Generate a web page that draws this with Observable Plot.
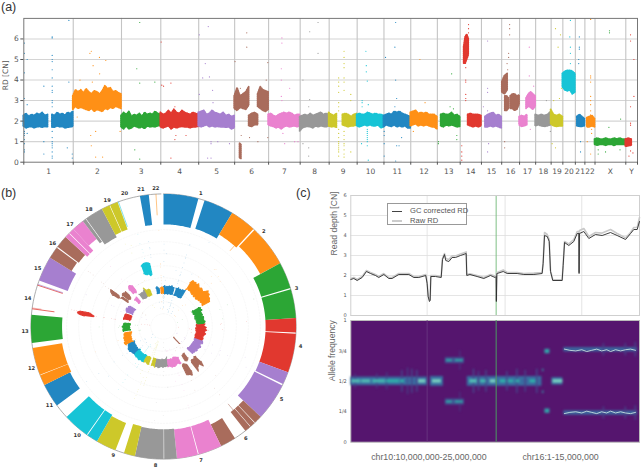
<!DOCTYPE html>
<html><head><meta charset="utf-8">
<script src="https://cdn.jsdelivr.net/npm/d3@7"></script>
<script src="https://cdn.jsdelivr.net/npm/@observablehq/plot@0.6"></script>
<style>
html,body{margin:0;padding:0;background:#fff;width:642px;height:467px;overflow:hidden}
#wrap{position:relative;width:642px;height:467px;font-family:"Liberation Sans",sans-serif}
.tag{position:absolute;font-size:12.5px;color:#333}
#legend{position:absolute;left:387px;top:203px;width:80px;height:22px;border:1px solid #999;background:#fff;font-size:7.6px;color:#555;box-sizing:border-box}
#legend div{position:absolute;left:22px;white-space:nowrap}
#legend i{position:absolute;left:4px;width:10px}
</style></head><body><div id="wrap"></div>
<script>
const chrNames=["1","2","3","4","5","6","7","8","9","10","11","12","13","14","15","16","17","18","19","20","21","22","X","Y"];
const chrLen=[249,243,198,191,181,171,159,146,141,135,135,134,115,107,102,90,81,78,59,63,48,51,155,59];
const chrColor=["#2287c2","#ff9016","#2ca635","#e1382f","#a67fcf","#a96c5c","#ea82cf","#989898","#cdc82a","#17c4d6","#2287c2","#ff9016","#2ca635","#e1382f","#a67fcf","#a96c5c","#ea82cf","#989898","#cdc82a","#17c4d6","#2287c2","#ff9016","#2ca635","#e1382f"];

// RD segments of panel (a): chromosome index, start and end in Mb, envelope of the cloud
const bandChr=[0,0,1,2,3,4,5,5,5,5,6,7,8,8,9,10,11,12,13,13,14,15,15,15,16,16,17,18,19,20,21,22,23];
const bandStart=[0,144,0,0,0,0,0,73,118,27,0,0,0,69,0,0,0,19,20,40,20,3,18,45,0,35,0,0,0,10,12,0,0];
const bandEnd=[122,249,243,198,191,181,73,118,171,34,159,146,39,141,135,135,134,115,43,107,102,30,37,90,39,81,78,59,63,48,51,155,30];
const bandHi=[
[2.25,2.35,2.2,2.3,2.25,2.35,2.3,2.4,2.25,2.3],
[2.3,2.25,2.4,2.3,2.35,2.25,2.4,2.35,2.45],
[3.2,3.5,3.4,3.5,3.35,3.55,3.4,3.3,3.45,3.4,3.3,3.45,3.7,3.55,3.6,3.4,3.45,3.35,3.3],
[2.25,2.4,2.3,2.45,2.2,2.3,2.25,2.35,2.2,2.4,2.3,2.35,2.3,2.45,2.35,2.3],
[2.4,2.3,2.35,2.5,2.35,2.55,2.4,2.35,2.5,2.4,2.35,2.3,2.4,2.35,2.3],
[2.4,2.45,2.5,2.3,2.35,2.5,2.4,2.35,2.3,2.4,2.25,2.3,2.2,2.25],
[3.2,3.6,3.2,3.3,3.4,3.65],
[2.25,2.35,2.4,2.3],
[3.3,3.65,3.5,3.45,3.4],
[0.9,0.85],
[2.3,2.35,2.25,2.2,2.3,2.35,2.4,2.35,2.4,2.35,2.25,2.3,2.3],
[2.2,2.25,2.3,2.25,2.35,2.25,2.3,2.35,2.4,2.3,2.35,2.3],
[2.4,2.3,2.25,2.35],
[2.3,2.35,2.3,2.2,2.3,2.35],
[2.3,2.35,2.3,2.3,2.4,2.35,2.3,2.35,2.3,2.3,2.25],
[2.25,2.3,2.35,2.3,2.45,2.4,2.45,2.35,2.3,2.25,2.2],
[2.4,2.45,2.5,2.35,2.4,2.35,2.4,2.3,2.3,2.3,2.2],
[2.3,2.35,2.3,2.3,2.4,2.25,2.3,2.2],
[5.6,6.1,6.2,6.0],
[2.3,2.35,2.3,2.3,2.3,2.25],
[2.2,2.3,2.35,2.4,2.25,2.3,2.2],
[3.9,4.2,4.3],
[3.2,3.2,3.1],
[3.2,3.3,3.3,3.2,3.25],
[2.2,2.25,2.2,2.3],
[3.1,3.3,3.4,3.3,3.2],
[2.3,2.25,2.3,2.25,2.3,2.45],
[2.55,2.3,2.25,2.3,2.2],
[4.3,4.4,4.45,4.45,4.4,4.3],
[2.2,2.3,2.2,2.1],
[2.15,2.2,2.25,2.1],
[1.1,1.15,1.1,1.1,1.15,1.1,1.1,1.15,1.1,1.15,1.1,1.1],
[1.1,1.15,1.1]];
const bandLo=[
[1.75,1.65,1.7,1.72,1.65,1.7,1.72,1.68,1.72,1.7],
[1.7,1.68,1.75,1.7,1.72,1.65,1.68,1.7,1.72],
[2.55,2.7,2.6,2.65,2.6,2.55,2.5,2.6,2.45,2.55,2.5,2.45,2.6,2.55,2.65,2.6,2.7,2.65,2.6],
[1.7,1.6,1.75,1.6,1.65,1.75,1.7,1.65,1.7,1.62,1.75,1.7,1.72,1.7,1.75,1.78],
[1.7,1.65,1.7,1.75,1.6,1.7,1.65,1.7,1.72,1.7,1.7,1.65,1.7,1.7,1.72],
[1.75,1.7,1.75,1.8,1.7,1.75,1.7,1.72,1.7,1.7,1.68,1.7,1.6,1.65],
[2.6,2.5,2.65,2.6,2.55,2.75],
[1.75,1.72,1.8,1.8],
[2.7,2.6,2.5,2.45,2.55],
[0.2,0.15],
[1.8,1.75,1.72,1.65,1.7,1.6,1.7,1.75,1.7,1.72,1.75,1.7,1.75],
[1.5,1.65,1.7,1.72,1.7,1.65,1.75,1.7,1.75,1.72,1.7,1.75],
[1.75,1.7,1.72,1.68],
[1.8,1.75,1.7,1.75,1.75,1.8],
[1.75,1.7,1.75,1.8,1.75,1.8,1.75,1.75,1.8,1.65,1.7],
[1.7,1.8,1.75,1.72,1.8,1.7,1.75,1.7,1.75,1.65,1.65],
[1.75,1.8,1.85,1.75,1.8,1.75,1.8,1.75,1.7,1.7,1.6],
[1.75,1.7,1.8,1.75,1.8,1.75,1.7,1.72],
[4.8,4.8,5.0,5.2],
[1.8,1.75,1.7,1.75,1.7,1.75],
[1.7,1.7,1.75,1.7,1.75,1.7,1.65],
[3.4,3.3,3.5],
[2.5,2.5,2.6],
[2.6,2.6,2.5,2.55,2.8],
[1.8,1.72,1.75,1.8],
[2.6,2.7,2.65,2.55,2.7],
[1.75,1.8,1.75,1.72,1.75,1.8],
[1.85,1.75,1.72,1.75,1.75],
[3.65,3.5,3.45,3.5,3.3,3.4],
[1.75,1.72,1.72,1.75],
[1.7,1.7,1.75,1.7],
[0.85,0.8,0.85,0.85,0.8,0.85,0.85,0.8,0.85,0.85,0.85,0.85],
[0.75,0.78,0.8]];

// isolated points of panel (a): genome position in Mb, CN values
const outliers=[[3,[5.8,5.3,4.35,3.1,1.5,1.4,1.3,1.1,0.9,0.6,0.5]],[17,[5.0,2.8,1.4]],[101,[3.7,1.0,0.4]],[143,[6.1,6.05,5.2,5.0,4.9,4.5,4.1,3.7,3.5,3.4,3.0,2.9,2.7,1.7,1.5,1.2,1.0,0.9,0.8,0.7,0.5,0.3,0.2]],[219,[0.7]],[227,[6.9,3.9]],[244,[0.4,0.2]],[269,[2.2]],[283,[4.0]],[333,[5.3]],[337,[1.3]],[340,[5.4,0.8]],[345,[3.9]],[349,[4.7]],[362,[1.5,0.25]],[381,[5.1]],[382,[4.3]],[397,[0.25]],[413,[4.95]],[485,[1.5]],[559,[0.6]],[569,[4.55]],[584,[6.8,3.85,0.15]],[660,[3.9]],[692,[5.85]],[695,[3.75]],[704,[3.7]],[741,[3.85,0.2]],[761,[1.1,2.7]],[766,[1.3]],[817,[1.3]],[884,[6.2,3.3]],[901,[4.1]],[914,[4.8]],[926,[0.2]],[929,[6.6]],[935,[4.15]],[943,[1.0,0.9,0.2]],[951,[3.5]],[953,[2.9]],[977,[1.0]],[1036,[0.9]],[1064,[4.9]],[1091,[3.6]],[1095,[1.3]],[1123,[6.3,5.6]],[1137,[1.2]],[1179,[1.0]],[1221,[4.0]],[1229,[4.85,1.2]],[1297,[4.55,4.0,3.2]],[1300,[6.05,5.8,3.0]],[1305,[1.4]],[1314,[0.9]],[1339,[3.6]],[1364,[1.0]],[1381,[1.0]],[1406,[4.0,0.9]],[1435,[2.7,0.7,0.3]],[1440,[6.35,3.05]],[1482,[6.8,5.3]],
[1586,[4.1,3.9,3.7,3.4,2.9,2.7,2.5,1.6,1.4,1.2,1.0,0.9,0.8,0.7,0.6,0.5,0.3]],[1613,[5.4,5.1,4.8,4.6,4.1,3.9,3.5,1.5,1.3,1.1,0.9,0.8,0.6,0.4,0.25]],[1647,[3.3,3.0,0.5]],[1701,[0.9]],[1704,[3.0,2.9,2.7]],[1723,[5.4]],[1725,[4.7,4.4]],[1730,[3.95,1.6,1.5,1.4,1.3,1.2,1.1,1.0,0.8]],[1735,[2.8,0.1]],[1815,[1.5,1.3,0.9,0.3]],[1822,[5.1]],[1869,[5.6,2.7]],[1873,[6.8,4.0,0.05]],[1878,[3.1,0.8]],[1890,[0.8]],[1903,[1.2]],[1962,[1.5]],[1995,[5.0]],[2021,[2.9]],[2088,[1.0,0.9]],[2147,[2.7]],[2155,[4.3]],[2164,[2.6]],[2181,[1.3,1.1]],[2206,[0.8,0.5,0.3,0.1]],[2226,[4.6,4.0,3.9,3.3,3.1,3.0]],[2236,[5.8]],[2240,[6.7,6.5,6.3]],[2315,[2.7]],[2336,[5.9,3.6,3.4,2.5,0.5]],[2341,[0.9]],[2422,[1.0,0.7]],[2434,[4.8]],[2437,[4.5]],[2442,[5.3,5.1]],[2447,[6.7,6.5,6.2]],[2546,[5.6,4.2]],[2551,[1.6]],[2568,[3.7]],[2632,[3.0]],[2652,[1.5]],[2661,[0.9]],[2669,[3.0]],[2678,[6.5,0.7]],[2691,[5.6]],[2698,[3.1]],[2703,[6.2]],[2708,[3.6]],[2750,[6.1]],[2753,[6.9,5.6,5.3,4.8]],[2798,[6.1,5.6,5.5]],[2795,[5.0,4.8]],[2804,[1.0,0.5]],[2838,[1.0]],[2855,[6.95,4.2,4.1,3.9,3.2,3.0,2.8,2.5,2.3,0.4]],[2860,[1.6,1.4]],[2893,[0.6,0.4]],[2930,[0.5]],[2947,[1.7]],[2950,[6.4,6.3]],[2972,[0.8]],[3003,[0.6]],[3006,[2.1]],[3048,[0.3]],[3056,[6.2,5.9,2.7,1.9,1.8,0.55]],[3068,[0.45]],[3073,[5.0,3.2]]];

// outer ring of panel (b): chromosome index, start and end in Mb, inner radius as a share of the ring radius
const ringChr=[0,0,1,1,2,2,3,3,4,4,5,5,5,5,6,6,7,7,8,8,9,9,10,11,11,12,14,15,15,16,16,16,17,17,18,18,20];
const ringStart=[0,144,0,97,0,97,0,54,0,49,0,30,50,116,0,85,0,46,0,70,0,42,52,0,38,18,15,0,46,0,19,38,0,14,0,31,17];
const ringEnd=[122,249,92,243,92,198,50,191,44,181,28,48,72,171,82,159,44,146,39,141,39,135,135,36,134,115,102,42,90,17,38,81,12,78,29,59,48];
const ringInner=[0.77,0.775,0.81,0.83,0.77,0.77,0.77,0.77,0.77,0.765,0.82,0.82,0.82,0.82,0.78,0.78,0.775,0.775,0.77,0.78,0.77,0.77,0.785,0.775,0.775,0.765,0.77,0.81,0.8,0.78,0.78,0.83,0.79,0.76,0.78,0.78,0.77];
const spokeChr=[1,5,13,13,13,14,19,21];
const spokeMb=[81,58,21,24,105,1,3,25];
const spokeInner=[0.76,0.76,0.83,0.93,0.8,0.8,0.8,0.84];
const spokeWidth=[0.7,0.7,1,0.5,1,0.8,0.7,0.7];

// panel (c): position in Mb along chr10:10-25M followed by chr16:1-15M, read depth
const rdPos=[0,0.3,0.64,1.14,1.57,1.98,2.48,2.81,3.32,3.82,4.15,4.82,5.83,6.33,6.83,7.53,7.67,7.77,7.9,7.97,8.04,8.51,9.08,9.21,9.41,9.54,9.85,10.18,10.52,11.02,11.59,11.65,11.96,12.69,13.36,14.03,14.5,14.6,14.62,14.67,14.7,15.31,15.71,16.71,17.38,18.39,19.22,19.32,19.46,19.73,19.93,20.06,20.29,21.23,21.33,21.47,21.9,22.4,22.74,22.91,22.93,22.97,23.41,23.91,24.58,25.25,26.09,26.76,27.6,28.1,28.43,28.77,29];
const rdGc=[1.8,1.85,1.75,1.9,2.2,2.1,2.0,1.9,2.05,1.85,1.85,2.05,2.05,1.9,1.9,2.0,1.6,0.95,0.7,0.75,1.95,1.95,1.9,2.8,3.05,2.75,2.7,2.9,2.9,3.0,3.1,2.0,2.05,1.95,1.85,2.0,1.9,1.95,0.7,2.1,2.1,2.2,2.1,2.1,2.05,2.05,2.1,2.6,4.0,3.95,3.7,2.2,1.75,1.75,2.5,3.65,3.5,3.7,4.1,4.1,2.1,4.1,4.2,3.85,4.05,4.0,4.15,4.0,3.8,4.1,4.3,4.3,4.7];
const rdRaw=[1.85,1.9,1.8,1.95,2.25,2.15,2.05,1.95,2.1,1.9,1.9,2.1,2.1,1.95,1.95,2.05,1.65,1.0,0.78,0.8,2.0,2.0,1.95,2.85,3.1,2.85,2.8,2.98,2.98,3.08,3.18,2.05,2.08,2.0,1.9,2.05,1.98,2.0,0.8,2.15,2.15,2.28,2.15,2.15,2.1,2.12,2.15,2.65,4.15,4.05,3.8,2.25,1.78,1.78,2.55,3.7,3.58,3.8,4.2,4.2,2.2,4.25,4.35,3.95,4.15,4.12,4.3,4.1,3.88,4.15,4.4,4.4,4.9];
const rdTicks=[0,1,2,3,4,5,6];
const posTicks=[7.67,15.5,23.2];

// allele frequency heat patches: from Mb, to Mb, centre frequency, half height, intensity
const heatFrom=[0,8.0,11.7,20.2,9.5,21.4,5.1,5.7,6.1,6.6,12.3,12.8,13.55,15.65,16.65,17.5,18.65,0.43,2.6,3.6,10.95,25.35,27.55,28.55,
 0.1,1.1,2.2,3.6,5.0,6.8,8.2,11.95,13.0,14.0,15.0,15.8,16.6,18.0,20.3,9.6,10.5,19.5,19.25];
const heatTo=[7.7,9.3,19.2,21.3,11.4,28.8,5.25,5.8,6.25,6.75,12.45,12.95,13.7,15.8,16.8,17.65,18.8,0.53,2.72,3.72,11.05,25.5,27.7,28.7,
 1.0,2.0,3.5,4.9,5.4,7.55,9.1,12.7,13.6,14.6,15.6,16.4,17.0,18.6,21.3,10.2,11.3,20.0,19.4];
const heatAf=[0.5,0.5,0.5,0.5,0.67,0.76,0.5,0.5,0.5,0.5,0.5,0.5,0.5,0.5,0.5,0.5,0.5,0.5,0.5,0.5,0.67,0.76,0.76,0.76,
 0.5,0.5,0.5,0.5,0.5,0.5,0.5,0.5,0.5,0.5,0.5,0.5,0.5,0.5,0.5,0.67,0.67,0.745,0.59];
const heatHalf=[0.035,0.04,0.04,0.03,0.024,0.018,0.09,0.11,0.1,0.09,0.1,0.08,0.09,0.08,0.1,0.09,0.1,0.06,0.06,0.07,0.08,0.05,0.05,0.06,
 0.012,0.012,0.012,0.012,0.012,0.014,0.014,0.014,0.012,0.014,0.012,0.012,0.012,0.012,0.014,0.008,0.008,0.018,0.01];
const heatValue=[0.36,0.38,0.36,0.4,0.26,0.33,0.2,0.22,0.2,0.2,0.2,0.18,0.2,0.2,0.2,0.18,0.2,0.18,0.18,0.18,0.16,0.18,0.18,0.18,
 0.8,0.8,0.78,0.75,0.75,0.85,0.85,0.8,0.78,0.85,0.75,0.72,0.72,0.75,0.85,0.72,0.72,0.65,0.55];
const lohPos=[21.45,22,22.6,23.2,23.7,24.2,24.7,25.2,25.7,26.1,26.6,27.1,27.6,28.1,28.6];
const lohAf=[0.765,0.755,0.75,0.76,0.745,0.755,0.765,0.75,0.76,0.745,0.76,0.75,0.76,0.765,0.755];
const afTicks=[0,0.25,0.5,0.75,1];
const afLabels=["0","1/4","1/2","3/4","1"];

const wrap=document.getElementById("wrap");
function place(svg,left,top,blur,rectBlur){
  svg.style.position="absolute";svg.style.left=left+"px";svg.style.top=top+"px";
  wrap.appendChild(svg);
  const s=d3.select(svg);
  if(blur) s.selectAll('g[aria-label="area"],g[aria-label="dot"],g[aria-label="line"],g[aria-label="link"]').style("filter","blur("+blur+"px)");
  if(rectBlur) s.selectAll('g[aria-label="rect"]').style("filter","blur("+rectBlur+"px)");
}
const tag=(t,x,y)=>{const d=document.createElement("div");d.className="tag";d.textContent=t;d.style.left=x+"px";d.style.top=y+"px";wrap.appendChild(d)};
const starts=d3.cumsum([0,...chrLen]);
const centres=chrLen.map((l,i)=>starts[i]+l/2);
const total=starts[22];

const bandPts=[];
bandChr.forEach((c,s)=>{const n=bandHi[s].length;bandHi[s].forEach((h,i)=>{
  const mb=bandStart[s]+(bandEnd[s]-bandStart[s])*i/(n-1);
  bandPts.push({s,c,g:starts[c]+mb,lo:bandLo[s][i],hi:h,col:chrColor[c]});});});
const outPts=outliers.flatMap(([g,vals])=>vals.map(v=>({g,v,col:chrColor[d3.bisectRight(starts,g)-1]})));

// panel (a)
place(Plot.plot({width:642,height:180,marginLeft:23.3,marginRight:5,marginTop:17.9,marginBottom:18.3,
 x:{domain:[0,3091],axis:null},y:{domain:[0,7],axis:null},color:{type:"identity"},
 style:{background:"transparent",fontFamily:"'DejaVu Sans'",fontSize:"7.5px",color:"#555"},
 marks:[
  Plot.ruleY([1,2,3,4,5,6],{stroke:"#d4d4d4",strokeWidth:1.1}),
  Plot.ruleX(starts.slice(1,24),{stroke:"#c4c4c4",strokeWidth:1.1}),
  Plot.areaY(bandPts,{x:"g",y1:"lo",y2:"hi",z:"s",fill:"col",stroke:"col",strokeWidth:1.8,strokeDasharray:"0.7,1.2"}),
  Plot.dot(outPts,{x:"g",y:"v",r:0.6,fill:"col",stroke:"none",clip:true}),
  Plot.frame({stroke:"#777",strokeWidth:1}),
  Plot.axisY([0,1,2,3,4,5,6],{label:null,tickSize:3,tickPadding:2,stroke:"#555",fill:"#555"}),
  Plot.axisX(starts,{label:null,tickSize:3,tickFormat:()=>"",stroke:"#555"}),
  Plot.axisX(centres,{label:null,tickSize:0,tickPadding:6,fill:"#555",tickFormat:(d,i)=>chrNames[i]}),
  Plot.text(["RD [CN]"],{y:[3.5],frameAnchor:"left",dx:-18.5,rotate:-90,fill:"#555",fontSize:7.5})
 ]}),0,0,0.35);

// panel (b)
const pol=(g,v)=>{const t=g/total*2*Math.PI;return {x:v*Math.sin(t),y:v*Math.cos(t)}};
const cnR=cn=>(38+36*cn)/397;
const wedgePts=[];
ringChr.forEach((c,w)=>{
  const a=starts[c]+ringStart[w],b=starts[c]+ringEnd[w];
  const steps=d3.range(a,b,6).concat(b);
  const side=(v,arr)=>arr.forEach(g=>wedgePts.push({id:w,col:chrColor[c],...pol(g,v)}));
  side(1,steps);side(ringInner[w],steps.slice().reverse());
});
const spokes=spokeChr.map((c,i)=>{const g=starts[c]+spokeMb[i];const p=pol(g,spokeInner[i]),q=pol(g,1);
  return {x1:p.x,y1:p.y,x2:q.x,y2:q.y,col:chrColor[c],w:spokeWidth[i]}});
const ringPts=[];
bandChr.forEach((c,s)=>{
  if(c>21) return;
  const hi=bandPts.filter(d=>d.s===s);
  hi.forEach(d=>ringPts.push({s,col:d.col,...pol(d.g,cnR(d.hi))}));
  hi.slice().reverse().forEach(d=>ringPts.push({s,col:d.col,...pol(d.g,cnR(d.lo))}));
});
const ringOut=outPts.filter(d=>d.g<total).map(d=>({col:d.col,...pol(d.g,cnR(d.v))}));
const circleAngles=d3.range(0,total+1,12);
const gridCn=[0,1,2,3,4,5,6,7];
const gridPts=gridCn.flatMap(cn=>circleAngles.map(g=>({cn,...pol(g,cnR(cn))})));
const R=132.6,half=150;
const labelR=1.045;
place(Plot.plot({width:300,height:300,margin:0,
 x:{domain:[-half/R,half/R],axis:null},y:{domain:[-half/R,half/R],axis:null},color:{type:"identity"},
 style:{background:"transparent",fontFamily:"'DejaVu Sans'"},
 marks:[
  Plot.line(gridPts,{x:"x",y:"y",z:"cn",stroke:"#f1f1f1",strokeWidth:0.5,strokeDasharray:"1.5,1.5"}),
  Plot.line(circleAngles.map(g=>pol(g,1)),{x:"x",y:"y",stroke:"#8a8a8a",strokeWidth:0.7}),
  Plot.line(wedgePts,{x:"x",y:"y",z:"id",fill:"col",stroke:"none"}),
  Plot.link(spokes,{x1:"x1",y1:"y1",x2:"x2",y2:"y2",stroke:"col",strokeWidth:"w",strokeOpacity:0.75}),
  Plot.line(ringPts,{x:"x",y:"y",z:"s",fill:"col",stroke:"col",strokeWidth:1.2,strokeDasharray:"0.6,1"}),
  Plot.dot(ringOut,{x:"x",y:"y",r:0.4,fill:"col",stroke:"none",fillOpacity:0.4}),
  Plot.text(chrNames.slice(0,22),{x:(d,i)=>pol(centres[i],labelR).x,y:(d,i)=>pol(centres[i],labelR).y,text:d=>d,fontSize:5.2,fontWeight:"bold",fill:"#333"})
 ]}),13.3,176,0.3);

// panel (c) top
place(Plot.plot({width:322,height:135,marginLeft:30.3,marginRight:3,marginTop:10,marginBottom:5,
 x:{domain:[0,29],axis:null},y:{domain:[0,6],axis:null},
 style:{background:"transparent",fontFamily:"'DejaVu Sans'",fontSize:"5px",color:"#555"},
 marks:[
  Plot.ruleY(rdTicks,{stroke:"#dedede",strokeWidth:0.8}),
  Plot.ruleX(posTicks,{stroke:"#dedede",strokeWidth:0.8}),
  Plot.ruleX([14.6],{stroke:"#7fbf85",strokeWidth:1}),
  Plot.frame({stroke:"#cfcfcf"}),
  Plot.line(rdPos,{x:d=>d,y:(d,i)=>rdRaw[i],stroke:"#c9c9c9",strokeWidth:1.6}),
  Plot.line(rdPos,{x:d=>d,y:(d,i)=>rdGc[i],stroke:"#2a2a2a",strokeWidth:0.9}),
  Plot.axisY(rdTicks,{label:null,tickSize:0,tickPadding:4,fill:"#555"}),
  Plot.text(["Read depth [CN]"],{y:[3],frameAnchor:"left",dx:-17,rotate:-90,fill:"#666",fontSize:8.6,fontFamily:"'Liberation Sans'"})
 ]}),320,185,0.3);

// panel (c) bottom
const heat=heatFrom.flatMap((x1,i)=>{const r=a=>({x1,x2:heatTo[i],y1:a-heatHalf[i],y2:a+heatHalf[i],v:heatValue[i]});
  return heatAf[i]===0.5?[r(0.5)]:[r(heatAf[i]),r(1-heatAf[i])]});
place(Plot.plot({width:322,height:152,marginLeft:30.3,marginRight:3,marginTop:5,marginBottom:25.3,
 x:{domain:[0,29],axis:null},y:{domain:[0,1],axis:null},
 color:{type:"linear",domain:[0,0.35,0.75,1],range:["#55156e","#3a6aa0","#2fb5aa","#e8f8e0"]},
 style:{background:"transparent",fontFamily:"'DejaVu Sans'",fontSize:"5px",color:"#555"},
 marks:[
  Plot.frame({fill:"#55156e",stroke:"#bbb"}),
  Plot.ruleX([7.67],{stroke:"#6a3a82",strokeWidth:0.8}),
  Plot.rect(heat,{x1:"x1",x2:"x2",y1:"y1",y2:"y2",fill:"v"}),
  Plot.line(lohPos,{x:d=>d,y:(d,i)=>lohAf[i],stroke:"#d8f0e8",strokeWidth:0.8}),
  Plot.line(lohPos,{x:d=>d,y:(d,i)=>1-lohAf[i],stroke:"#d8f0e8",strokeWidth:0.8}),
  Plot.ruleX([14.6],{stroke:"#4d9a62",strokeWidth:1}),
  Plot.axisY(afTicks,{label:null,tickSize:0,tickPadding:4,fill:"#555",tickFormat:(d,i)=>afLabels[i]}),
  Plot.text(["Allele frequency"],{y:[0.5],frameAnchor:"left",dx:-19,rotate:-90,fill:"#666",fontSize:8.6,fontFamily:"'Liberation Sans'"}),
  Plot.text(["chr10:10,000,000-25,000,000"],{x:[7.84],y:[0],dy:14.5,fill:"#666",fontSize:8.8,fontFamily:"'Liberation Sans'"}),
  Plot.text(["chr16:1-15,000,000"],{x:[21.07],y:[0],dy:14.5,fill:"#666",fontSize:8.8,fontFamily:"'Liberation Sans'"})
 ]}),320,315,0.3,0.8);

tag("(a)",1,0);tag("(b)",1,186);tag("(c)",296,186);
const lg=document.createElement("div");lg.id="legend";
lg.innerHTML='<i style="top:7px;height:1px;background:#444"></i><div style="top:2px">GC corrected RD</div><i style="top:16px;height:2px;background:#ccc"></i><div style="top:11.5px">Raw RD</div>';
wrap.appendChild(lg);
</script></body></html>
